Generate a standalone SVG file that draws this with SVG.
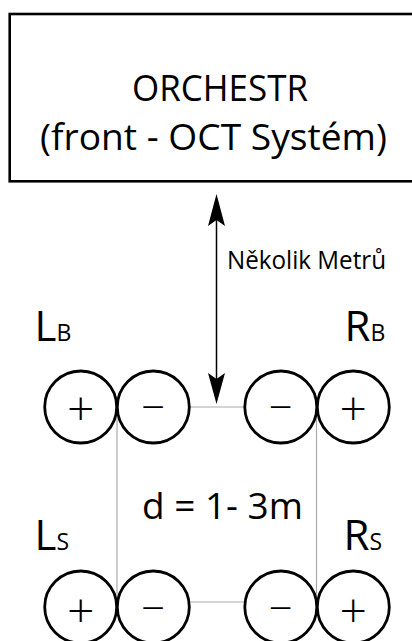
<svg xmlns="http://www.w3.org/2000/svg" width="412" height="641" viewBox="0 0 412 641">
  <style>
    .txt { font-family: "Open Sans", "Noto Sans", sans-serif; fill: #000; }
    .spk { fill: #fff; stroke: #000; stroke-width: 2.8; }
    .sign { font-family: "Open Sans", "Noto Sans", sans-serif; font-weight: 300; text-anchor: middle; fill: #000; }
    .plus { font-size: 48px; }
    .minus { font-size: 42px; }
    .guide { stroke: #aaa; stroke-width: 1.2; fill: none; }
  </style>

  <rect width="412" height="641" fill="#fff"/>

  <!-- guide lines between the speaker pairs -->
  <g id="connectors">
    <line class="guide" x1="189" y1="407" x2="245" y2="407"/>
    <line class="guide" x1="189" y1="602" x2="245" y2="602"/>
    <line class="guide" x1="117" y1="407" x2="117" y2="607"/>
    <line class="guide" x1="316.5" y1="407" x2="316.5" y2="607"/>
    <!-- distance arrow to the orchestra -->
    <line x1="216.5" y1="215" x2="216.5" y2="384" stroke="#000" stroke-width="1.5"/>
    <path d="M216.5 194 L208 226 L216.5 220 L225 226 Z" fill="#000"/>
    <path d="M216.5 404 L208 373 L216.5 379 L225 373 Z" fill="#000"/>
  </g>

  <g id="orchestr">
    <rect x="9.7" y="14" width="420" height="167.3" fill="#fff" stroke="#000" stroke-width="2.6"/>
    <text class="txt" x="132" y="101" font-size="36" textLength="176" lengthAdjust="spacingAndGlyphs">ORCHESTR</text>
    <text class="txt" x="40" y="150" font-size="36" textLength="347" lengthAdjust="spacingAndGlyphs">(front - OCT Systém)</text>
  </g>

  <g id="distance-label">
    <text class="txt" x="227" y="269" font-size="25.5" textLength="159" lengthAdjust="spacingAndGlyphs">Několik Metrů</text>
  </g>

  <g id="spacing-label">
    <text class="txt" x="142" y="519" font-size="36.5" textLength="161" lengthAdjust="spacingAndGlyphs">d = 1- 3m</text>
  </g>

  <g id="LB">
    <text class="txt" x="34.5" y="340.5"><tspan font-size="42">L</tspan><tspan font-size="23">B</tspan></text>
    <circle class="spk" cx="80.7" cy="407" r="36"/>
    <circle class="spk" cx="153.3" cy="407" r="36"/>
    <text class="sign plus" x="80.7" y="426">+</text>
    <text class="sign minus" x="153.3" y="422">−</text>
  </g>

  <g id="RB">
    <text class="txt" x="344.5" y="340.5"><tspan font-size="42">R</tspan><tspan font-size="23">B</tspan></text>
    <circle class="spk" cx="280.8" cy="407" r="36"/>
    <circle class="spk" cx="353.3" cy="407" r="36"/>
    <text class="sign minus" x="280.8" y="422">−</text>
    <text class="sign plus" x="353.3" y="426">+</text>
  </g>

  <g id="LS">
    <text class="txt" x="34.5" y="550"><tspan font-size="42">L</tspan><tspan font-size="23">S</tspan></text>
    <circle class="spk" cx="80.7" cy="607" r="36"/>
    <circle class="spk" cx="153.3" cy="607" r="36"/>
    <text class="sign plus" x="80.7" y="628.3">+</text>
    <text class="sign minus" x="153.3" y="623">−</text>
  </g>

  <g id="RS">
    <text class="txt" x="343.5" y="550"><tspan font-size="42">R</tspan><tspan font-size="23">S</tspan></text>
    <circle class="spk" cx="280.8" cy="607" r="36"/>
    <circle class="spk" cx="353.3" cy="607" r="36"/>
    <text class="sign minus" x="280.8" y="623">−</text>
    <text class="sign plus" x="353.3" y="628.3">+</text>
  </g>
</svg>
